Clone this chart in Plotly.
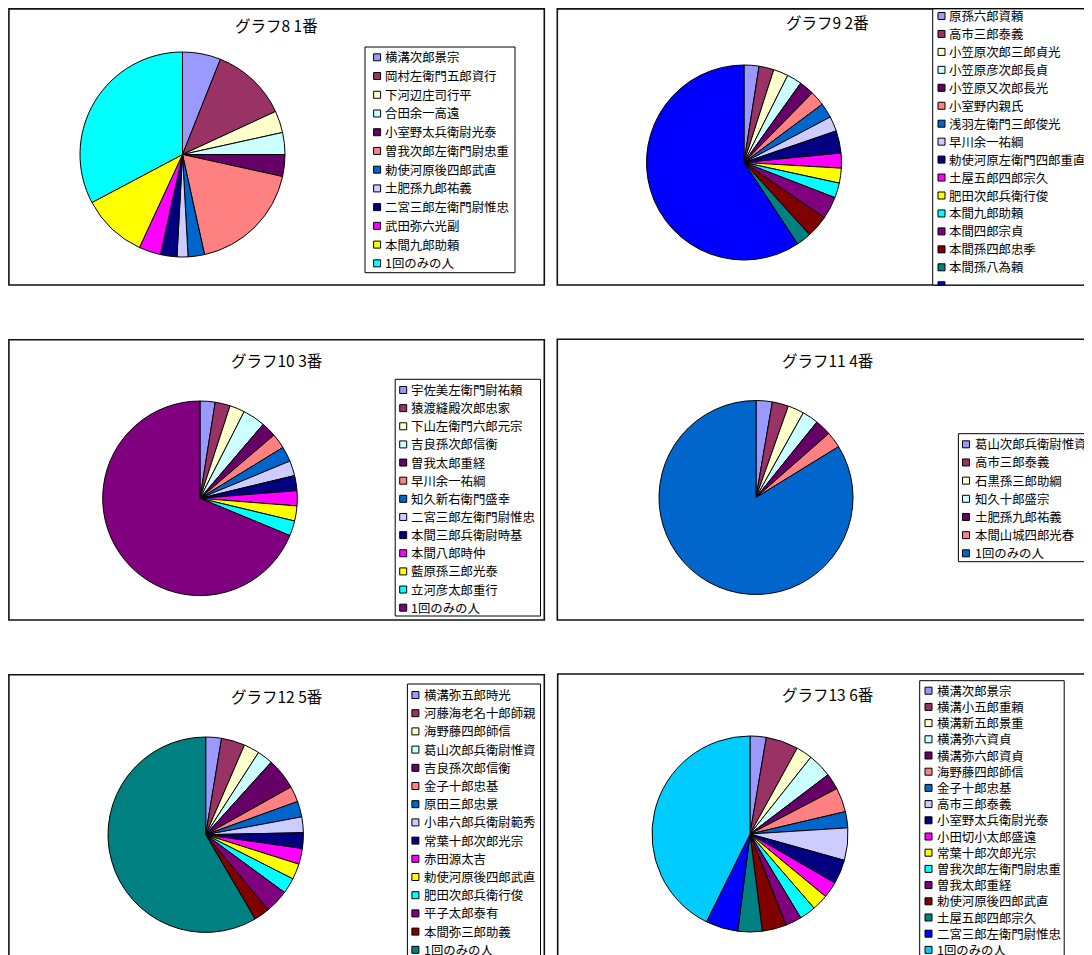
import plotly.graph_objects as go

# The page body adds an 8px margin; the figure is sized and shifted to compensate.
OFF = 8
W, H = 1092 - OFF, 955 - OFF

# ---------------- data ----------------
colors = ["#9999FF", "#993366", "#FFFFCC", "#CCFFFF", "#660066", "#FF8080",
          "#0066CC", "#CCCCFF", "#000080", "#FF00FF", "#FFFF00", "#00FFFF",
          "#800080", "#800000", "#008080", "#0000FF", "#00CCFF"]

titles = ["グラフ8 1番", "グラフ9 2番", "グラフ10 3番",
          "グラフ11 4番", "グラフ12 5番", "グラフ13 6番"]

labels8 = ["横溝次郎景宗", "岡村左衛門五郎資行", "下河辺庄司行平", "合田余一高遠",
           "小室野太兵衛尉光泰", "曽我次郎左衛門尉忠重", "勅使河原後四郎武直",
           "土肥孫九郎祐義", "二宮三郎左衛門尉惟忠", "武田弥六光副", "本間九郎助頼",
           "1回のみの人"]
values8 = [7, 14, 4, 4, 4, 21, 3, 2, 3, 4, 12, 38]

labels9 = ["原孫六郎資頼", "高市三郎泰義", "小笠原次郎三郎貞光", "小笠原彦次郎長貞",
           "小笠原又次郎長光", "小室野内親氏", "浅羽左衛門三郎俊光", "早川余一祐綱",
           "勅使河原左衛門四郎重直", "土屋五郎四郎宗久", "肥田次郎兵衛行俊",
           "本間九郎助頼", "本間四郎宗貞", "本間孫四郎忠季", "本間孫八為頼",
           "1回のみの人"]
values9 = [2, 2, 2, 2, 2, 2, 2, 2, 3, 2, 2, 2, 3, 3, 2, 48]

labels10 = ["宇佐美左衛門尉祐頼", "猿渡縫殿次郎忠家", "下山左衛門六郎元宗", "吉良孫次郎信衡",
            "曽我太郎重経", "早川余一祐綱", "知久新右衛門盛幸", "二宮三郎左衛門尉惟忠",
            "本間三郎兵衛尉時基", "本間八郎時仲", "藍原孫三郎光泰", "立河彦太郎重行",
            "1回のみの人"]
values10 = [2, 2, 2, 3, 2, 2, 2, 2, 2, 2, 2, 2, 55]

labels11 = ["葛山次郎兵衛尉惟資", "高市三郎泰義", "石黒孫三郎助綱", "知久十郎盛宗",
            "土肥孫九郎祐義", "本間山城四郎光春", "1回のみの人"]
values11 = [1, 1, 1, 1, 1, 1, 31]

labels12 = ["横溝弥五郎時光", "河藤海老名十郎師親", "海野藤四郎師信", "葛山次郎兵衛尉惟資",
            "吉良孫次郎信衡", "金子十郎忠基", "原田三郎忠景", "小串六郎兵衛尉範秀",
            "常葉十郎次郎光宗", "赤田源太吉", "勅使河原後四郎武直", "肥田次郎兵衛行俊",
            "平子太郎泰有", "本間弥三郎助義", "1回のみの人"]
values12 = [2, 3, 2, 2, 4, 2, 2, 2, 2, 2, 2, 2, 3, 2, 45]

labels13 = ["横溝次郎景宗", "横溝小五郎重頼", "横溝新五郎景重", "横溝弥六資貞",
            "横溝弥六郎資貞", "海野藤四郎師信", "金子十郎忠基", "高市三郎泰義",
            "小室野太兵衛尉光泰", "小田切小太郎盛遠", "常葉十郎次郎光宗",
            "曽我次郎左衛門尉忠重", "曽我太郎重経", "勅使河原後四郎武直",
            "土屋五郎四郎宗久", "二宮三郎左衛門尉惟忠", "1回のみの人"]
values13 = [2, 4, 2, 3, 2, 3, 2, 4, 3, 2, 2, 2, 2, 3, 3, 4, 32]

series = [(labels8, values8), (labels9, values9), (labels10, values10),
          (labels11, values11), (labels12, values12), (labels13, values13)]

# ---------------- layout (pixel geometry, page coordinates) ----------------
FONT = "Noto Sans CJK JP, Noto Sans CJK SC, sans-serif"
panels = [(6.7, 4.7, 544.3, 285), (557.3, 3, 1110, 285),
          (6.7, 339.7, 544.3, 620), (557.3, 339.3, 1110, 620),
          (6.7, 674.7, 544.3, 1000), (557.7, 674, 1110, 1000)]
pies = [(182.5, 154.5, 102.5), (744, 162.5, 97.5), (200, 498.3, 97.3),
        (756, 497.5, 97), (205.7, 834.7, 97.7), (750, 834, 98)]
title_pos = [(276.6, 24.5), (827, 22.5), (276.6, 359.5),
             (827, 359.5), (276.8, 695.5), (827, 694)]
# legend: box x0, y0, x1, y1, first item y, spacing, symbol x0, text x
legends = [(365, 47, 515, 272.7, 57.3, 18.73, 373.6, 385),
           (932.7, 4, 1090.7, 285, 16.0, 17.95, 938, 948.8),
           (395.2, 379.3, 540.5, 616, 390, 18.14, 399.7, 411.2),
           (958.4, 433.7, 1090.3, 561.7, 444.3, 18.17, 962.5, 974.5),
           (407.4, 684, 540.5, 1000, 695, 18.2, 411.9, 424),
           (919.7, 680.7, 1064.2, 1000, 690.7, 16.2, 925, 936.8)]
SYM = 7
EDGE = 0.9  # keep frame lines that fall in the page margin just inside the figure


def px(x, clamp=False):
    v = x - OFF
    if clamp:
        v = max(v, EDGE)
    return v / W


def py(y, clamp=False):
    v = y - OFF
    if clamp:
        v = max(v, EDGE)
    return 1 - v / H


fig = go.Figure()
shapes = []
annotations = []

for i, (labs, vals) in enumerate(series):
    # panel frame
    x0, y0, x1, y1 = panels[i]
    shapes.append(dict(type="rect", xref="paper", yref="paper",
                       x0=px(x0, True), x1=px(x1), y0=py(y1), y1=py(y0, True),
                       line=dict(color="#111111", width=1.6), fillcolor="rgba(0,0,0,0)",
                       layer="below"))
    # pie
    cx, cy, r = pies[i]
    fig.add_trace(go.Pie(
        labels=labs, values=vals, sort=False, direction="clockwise", rotation=0,
        marker=dict(colors=colors[:len(labs)], line=dict(color="black", width=1)),
        textinfo="none", showlegend=False, name=titles[i],
        domain=dict(x=[px(cx - r), px(cx + r)], y=[py(cy + r), py(cy - r)]),
    ))
    # title
    tx, ty = title_pos[i]
    annotations.append(dict(text=titles[i], x=px(tx), y=py(ty), xref="paper", yref="paper",
                            xanchor="center", yanchor="middle", showarrow=False,
                            borderpad=0, borderwidth=0,
                            font=dict(family=FONT, size=15.5, color="black")))
    # legend
    lx0, ly0, lx1, ly1, fy, sp, sx, txx = legends[i]
    shapes.append(dict(type="rect", xref="paper", yref="paper",
                       x0=px(lx0), x1=px(lx1), y0=py(ly1), y1=py(ly0, True),
                       line=dict(color="black", width=1), fillcolor="white", layer="below"))
    for k, lab in enumerate(labs):
        yc = fy + k * sp
        top, bot = yc - SYM / 2, min(yc + SYM / 2, y1)
        if top >= y1:
            continue
        shapes.append(dict(type="rect", xref="paper", yref="paper",
                           x0=px(sx), x1=px(sx + SYM), y0=py(bot), y1=py(top),
                           line=dict(color="black", width=1), fillcolor=colors[k]))
        if yc + 4 > y1:
            continue
        annotations.append(dict(text=lab, x=px(txx), y=py(yc), xref="paper", yref="paper",
                                xanchor="left", yanchor="middle", showarrow=False,
                                borderpad=0, borderwidth=0,
                                font=dict(family=FONT, size=12.4, color="black")))

fig.update_layout(width=W, height=H, margin=dict(l=0, r=0, t=0, b=0, autoexpand=False),
                  paper_bgcolor="white", plot_bgcolor="white",
                  shapes=shapes, annotations=annotations, showlegend=False)

fig.write_html("out.html")
